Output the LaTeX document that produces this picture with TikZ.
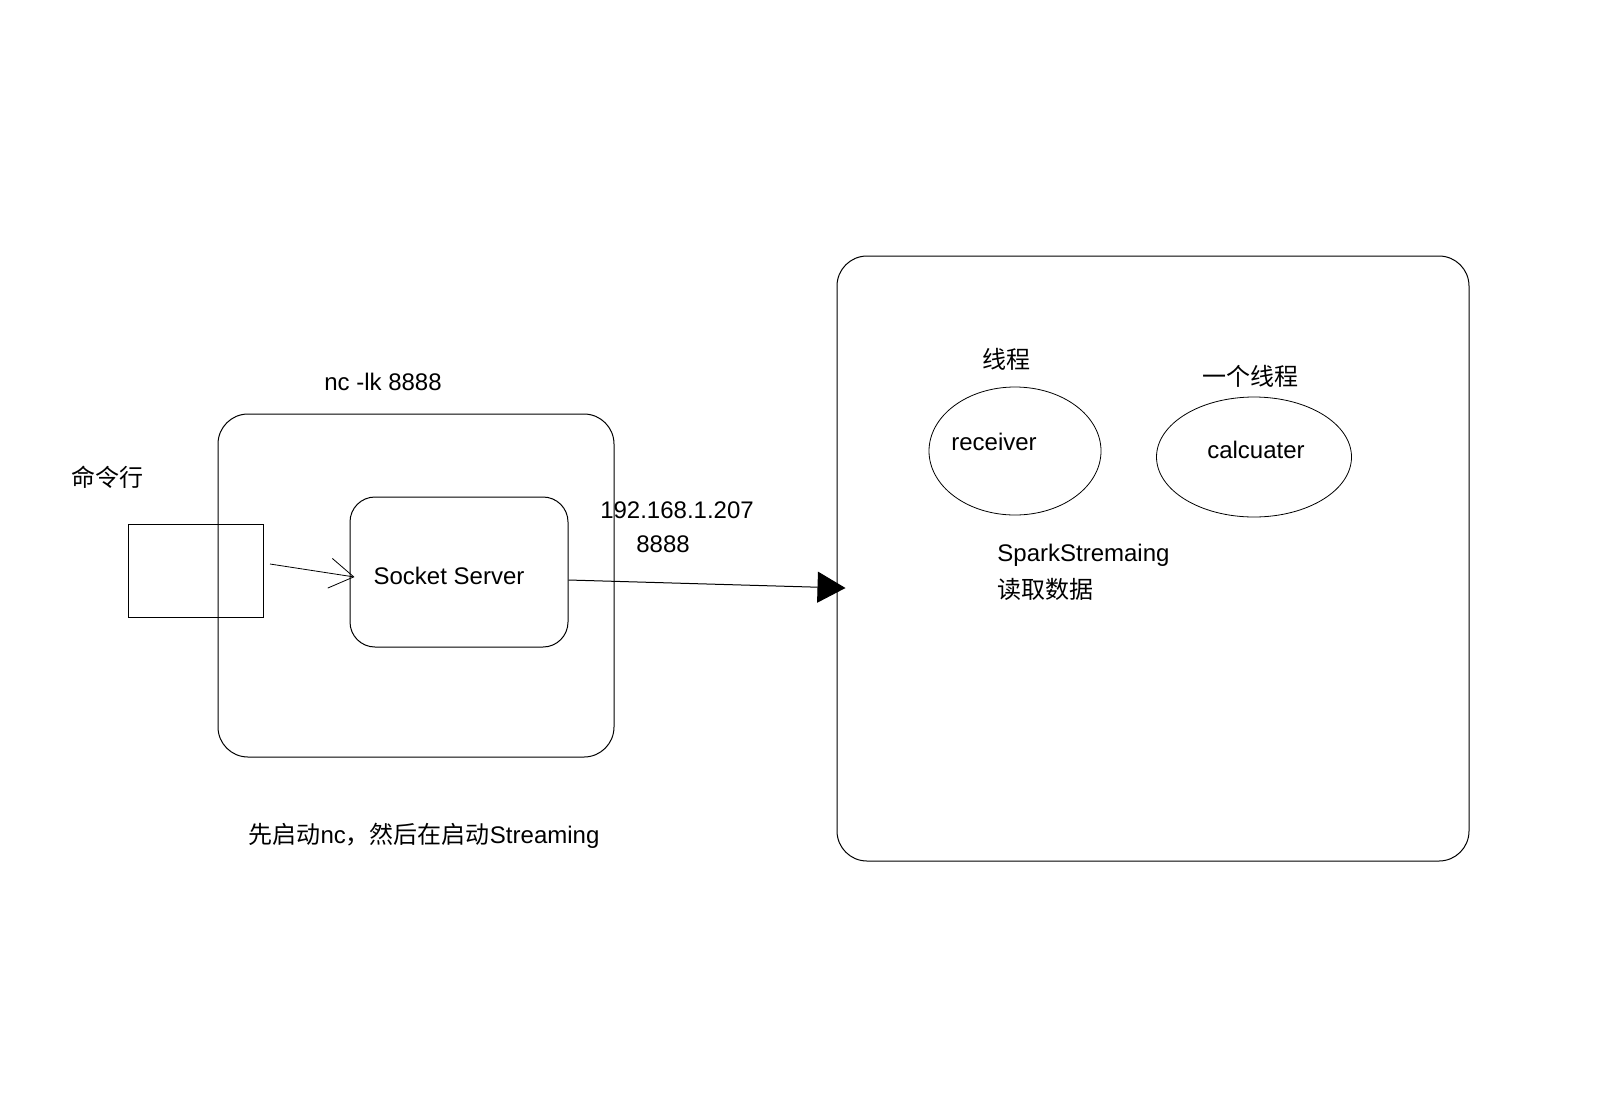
\documentclass[tikz,border=0pt]{standalone}
\usepackage{fontspec}
\setmainfont{Liberation Sans}
\newfontfamily\cjk{Noto Sans CJK SC}
\usetikzlibrary{shapes.geometric,arrows.meta}
\begin{document}
\begin{tikzpicture}[x=0.5pt,y=-0.5pt,
  font=\fontsize{12}{14}\selectfont,
  box/.style={draw,line width=0.5pt,rectangle,inner sep=0pt},
  oval/.style={draw,line width=0.4pt,ellipse,inner sep=0pt},
  lbl/.style={inner sep=0pt,align=left}]
\fill[white] (0,0) rectangle (1600,1104);
\useasboundingbox (0,0) rectangle (1600,1104);
% boxes
\node[box,rounded corners=15pt,minimum width=198pt,minimum height=171.5pt] (nc) at (416,585.5) {};
\node[box,minimum width=67.5pt,minimum height=46.5pt] (cmd) at (195.5,570.5) {};
\node[box,rounded corners=12.5pt,minimum width=109pt,minimum height=75pt] (sock) at (459,572) {};
\node[lbl] (socktxt) at (449,576) {Socket Server};
\node[box,rounded corners=15pt,minimum width=316pt,minimum height=302.5pt] (spark) at (1153,558.5) {};
\node[oval,minimum width=86pt,minimum height=64pt] (recv) at (1015,451) {};
\node[oval,minimum width=97.5pt,minimum height=60pt] (calc) at (1254,457) {};
% texts
\node[lbl] (nctxt) at (383,382) {nc -lk 8888};
\node[lbl] (cmdtxt) at (107,477) {\cjk 命令行};
\node[lbl] (ip) at (677,510) {192.168.1.207};
\node[lbl] (port) at (663,544) {8888};
\node[lbl] (note) at (424,836) {{\cjk 先启动}nc{\cjk ，然后在启动}Streaming};
\node[lbl] (th1) at (1006,359) {\cjk 线程};
\node[lbl] (th2) at (1250,376) {\cjk 一个线程};
\node[lbl] (recvtxt) at (994,442) {receiver};
\node[lbl] (calctxt) at (1256,450) {calcuater};
\node[lbl,anchor=west] (ss) at (997,555) {SparkStremaing};
\node[lbl,anchor=west] (rd) at (997,589) {\cjk 读取数据};
% connectors
\coordinate (a1) at (270,564);
\draw[line width=0.4pt,-{Straight Barb[length=12pt,width=15pt]}] (a1) -- ([xshift=2.5pt,yshift=-2.5pt]sock.west);
\draw[line width=0.5pt,-{Triangle[length=14pt,width=15.5pt]}] ([yshift=-4pt]sock.east) -- ([xshift=4.5pt,yshift=-14.75pt]spark.west);
\end{tikzpicture}
\end{document}
